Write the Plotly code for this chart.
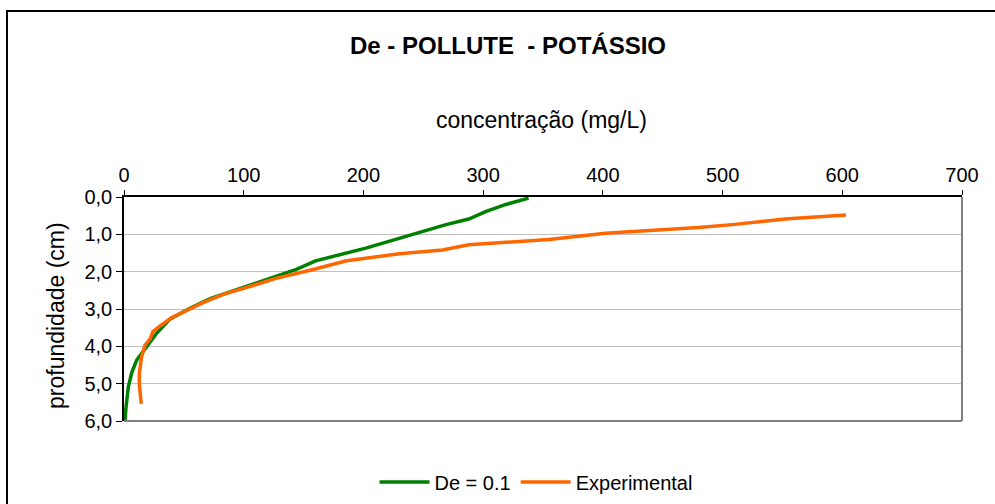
import plotly.graph_objects as go

# Data
model_conc = [338, 330, 319, 302, 288, 269, 230, 202, 160, 144, 120, 99, 72, 55, 38, 27, 16, 10.6, 6.4, 3.6, 1.7, 0.8]
model_depth = [0.03, 0.1, 0.2, 0.39, 0.59, 0.74, 1.1, 1.37, 1.71, 1.94, 2.2, 2.43, 2.72, 2.98, 3.28, 3.66, 4.15, 4.37, 4.71, 5.09, 5.63, 6.0]

exp_conc = [603, 552, 508, 480, 402, 355, 288, 266, 230, 186, 158, 127, 116, 83, 66, 52, 40, 29, 24, 22, 17.5, 14.7, 12.8, 12.8, 14.4]
exp_depth = [0.48, 0.59, 0.74, 0.82, 0.97, 1.14, 1.28, 1.42, 1.52, 1.71, 1.94, 2.18, 2.29, 2.61, 2.83, 3.05, 3.23, 3.48, 3.61, 3.79, 3.97, 4.28, 4.73, 5.0, 5.54]

series_names = ["De = 0.1", "Experimental"]
x_ticks = [0, 100, 200, 300, 400, 500, 600, 700]
y_ticks = [0, 1, 2, 3, 4, 5, 6]

FONT = "Liberation Sans, Arial, sans-serif"

fig = go.Figure()
fig.add_trace(go.Scatter(x=model_conc, y=model_depth, mode="lines", name=series_names[0],
                         line=dict(color="#008000", width=3.5)))
fig.add_trace(go.Scatter(x=exp_conc, y=exp_depth, mode="lines", name=series_names[1],
                         line=dict(color="#FF6600", width=3.5)))

L, R, T, B = 124, 33, 197, 83
W, H = 995, 504
pw = W - L - R
ph = H - T - B

def px_x(px):
    return (px - L) / pw

def px_y(py):
    return (H - B - py) / ph

fig.update_layout(
    width=W, height=H,
    margin=dict(l=L, r=R, t=T, b=B, pad=0, autoexpand=False),
    paper_bgcolor="white", plot_bgcolor="white",
    separators=",.",
    font=dict(family=FONT, size=20, color="black"),
    showlegend=True,
    legend=dict(orientation="h", x=px_x(536), xanchor="center", y=px_y(482), yanchor="middle",
                font=dict(size=20, family=FONT), itemwidth=50, bgcolor="rgba(0,0,0,0)"),
    xaxis=dict(side="top", range=[0, 700], tickvals=x_ticks, ticks="outside", ticklen=5,
               tickcolor="black", showline=True, linecolor="black", linewidth=1.5,
               showgrid=False, zeroline=False, automargin=False,
               tickfont=dict(size=20, family=FONT)),
    yaxis=dict(range=[6, 0], tickvals=y_ticks, tickformat=".1f", ticks="outside", ticklen=6,
               tickcolor="black", showline=True, linecolor="black", linewidth=1.5,
               showgrid=True, gridcolor="#c0c0c0", gridwidth=1, zeroline=False, automargin=False,
               tickfont=dict(size=20, family=FONT)),
    annotations=[
        dict(text="<b>De - POLLUTE  - POTÁSSIO</b>", x=px_x(508), y=px_y(45), xref="paper", yref="paper",
             showarrow=False, xanchor="center", yanchor="middle", font=dict(size=24, family=FONT)),
        dict(text="concentração (mg/L)", x=px_x(541), y=px_y(120), xref="paper", yref="paper",
             showarrow=False, xanchor="center", yanchor="middle", font=dict(size=23, family=FONT)),
        dict(text="profundidade (cm)", x=px_x(56), y=px_y(316), xref="paper", yref="paper",
             showarrow=False, xanchor="center", yanchor="middle", textangle=-90,
             font=dict(size=23, family=FONT)),
    ],
    shapes=[
        # right and bottom plot-area borders (gray)
        dict(type="line", xref="paper", yref="paper", x0=1, x1=1, y0=0, y1=1,
             line=dict(color="#808080", width=2)),
        dict(type="line", xref="paper", yref="paper", x0=0, x1=1, y0=0, y1=0,
             line=dict(color="#808080", width=2)),
        # outer chart frame (black), extends past the visible page on right and bottom
        dict(type="rect", xref="paper", yref="paper", x0=px_x(7), x1=px_x(1010), y0=px_y(520), y1=px_y(11),
             line=dict(color="black", width=2), fillcolor="rgba(0,0,0,0)", layer="below"),
    ],
)

fig.write_html("out.html", config={"displayModeBar": False},
               post_script="document.body.style.margin='0';document.body.style.overflow='hidden';")
